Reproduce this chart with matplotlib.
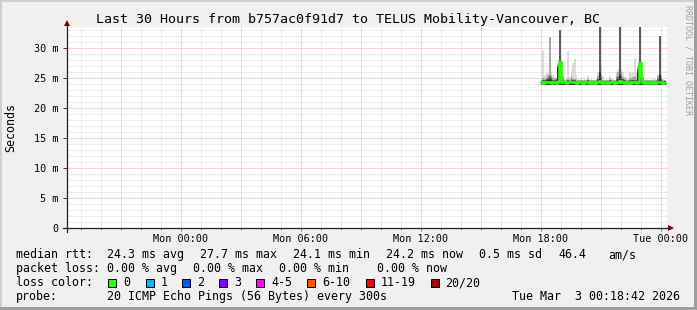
import matplotlib
matplotlib.use("Agg")
import matplotlib.pyplot as plt
from matplotlib.patches import Rectangle, Polygon
from matplotlib.lines import Line2D

# ---------------- data ----------------
title = "Last 30 Hours from b757ac0f91d7 to TELUS Mobility-Vancouver, BC"
x_tick_hours = [0, 6, 12, 18, 24]
x_tick_labels = ["Mon 00:00", "Mon 06:00", "Mon 12:00", "Mon 18:00", "Tue 00:00"]
y_ticks = [0, 5, 10, 15, 20, 25, 30]
y_tick_labels = ["0", "5 m", "10 m", "15 m", "20 m", "25 m", "30 m"]

# window: 30 hours ending Tue 00:18:42 (hours relative to Mon 00:00)
window_end = 24 + 18 / 60 + 42 / 3600
window_hours = 30
first_step_hour = 18.0       # data starts Mon 18:00
step_minutes = 5

median_ms = [24.3, 24.2, 24.3, 24.3, 24.4, 24.3, 24.2, 24.3, 24.3, 24.2,
             24.4, 27.7, 24.6, 24.3, 24.3, 24.2, 24.3, 24.3, 24.4, 24.3,
             24.3, 24.2, 24.3, 24.3, 24.3, 24.2, 24.3, 24.3, 24.3, 24.2,
             24.3, 24.3, 24.2, 24.3, 24.3, 24.5, 24.3, 24.2, 24.3, 24.3,
             24.2, 24.3, 24.3, 24.3, 24.2, 24.3, 24.3, 24.5, 24.3, 24.3,
             24.2, 24.3, 24.3, 24.2, 24.3, 24.3, 24.3, 24.2, 24.4, 27.5,
             25.2, 24.3, 24.2, 24.3, 24.3, 24.2, 24.3, 24.3, 24.2, 24.3,
             24.3, 24.4, 24.3, 24.2, 24.2]
ping_min = [23.9, 23.9, 23.8, 23.9, 23.9, 23.9, 23.8, 23.9, 23.9, 23.9,
            23.9, 23.9, 23.9, 23.9, 23.8, 23.9, 23.9, 23.9, 23.9, 23.8,
            23.9, 23.9, 23.9, 23.9, 23.8, 23.9, 23.9, 23.9, 23.9, 23.9,
            23.8, 23.9, 23.9, 23.9, 23.9, 23.9, 23.9, 23.8, 23.9, 23.9,
            23.9, 23.9, 23.9, 23.8, 23.9, 23.9, 23.9, 23.9, 23.9, 23.9,
            23.8, 23.9, 23.9, 23.9, 23.9, 23.8, 23.9, 23.9, 23.9, 23.9,
            23.9, 23.9, 23.8, 23.9, 23.9, 23.9, 23.9, 23.9, 23.8, 23.9,
            23.9, 23.9, 23.9, 23.9, 23.8]
ping_top1 = [24.7, 29.5, 25.5, 26.0, 25.8, 31.9, 26.0, 25.5, 25.2, 25.0,
             27.3, 33.0, 26.0, 25.8, 24.9, 25.0, 29.5, 25.2, 26.3, 27.5,
             28.2, 25.5, 24.8, 24.7, 25.0, 24.7, 24.8, 24.7, 25.4, 24.7,
             24.8, 24.7, 24.7, 24.9, 26.0, 34.5, 27.2, 25.3, 24.7, 24.8,
             24.7, 25.4, 24.8, 24.9, 24.7, 26.0, 26.5, 34.5, 26.5, 26.0,
             25.2, 25.0, 24.8, 26.0, 25.8, 26.0, 28.4, 26.0, 27.0, 34.5,
             26.0, 25.0, 24.7, 24.8, 24.7, 24.7, 24.9, 24.7, 24.8, 24.7,
             25.7, 32.0, 25.7, 24.8, 24.7]
ping_top2 = [24.6, 25.0, 24.8, 25.2, 25.5, 31.9, 25.5, 25.0, 24.8, 24.8,
             27.3, 33.0, 25.8, 25.3, 24.6, 24.7, 24.9, 24.7, 25.5, 24.8,
             24.8, 24.7, 24.6, 24.6, 24.6, 24.6, 24.6, 24.6, 24.8, 24.6,
             24.6, 24.6, 24.6, 24.6, 25.3, 34.5, 25.5, 24.7, 24.6, 24.6,
             24.6, 24.8, 24.6, 24.6, 24.6, 25.3, 26.0, 34.5, 26.0, 25.2,
             24.8, 24.7, 24.6, 25.0, 25.0, 25.2, 25.3, 25.0, 26.8, 34.5,
             25.8, 24.7, 24.6, 24.6, 24.6, 24.6, 24.6, 24.6, 24.6, 24.6,
             25.3, 32.0, 25.3, 24.6, 24.6]
ping_top3 = [24.5, 24.6, 24.6, 24.8, 25.0, 25.3, 25.0, 24.7, 24.6, 24.8,
             27.0, 33.0, 25.5, 24.8, 24.5, 24.5, 24.6, 24.5, 24.8, 24.6,
             24.6, 24.5, 24.5, 24.5, 24.5, 24.5, 24.5, 24.5, 24.6, 24.5,
             24.5, 24.5, 24.5, 24.5, 24.8, 34.5, 25.0, 24.5, 24.5, 24.5,
             24.5, 24.6, 24.5, 24.5, 24.5, 24.8, 25.2, 34.5, 25.3, 24.8,
             24.6, 24.5, 24.5, 24.6, 24.6, 24.7, 24.7, 24.6, 26.5, 34.5,
             25.5, 24.5, 24.5, 24.5, 24.5, 24.5, 24.5, 24.5, 24.5, 24.5,
             24.8, 32.0, 24.8, 24.5, 24.5]
ping_top4 = [24.4, 24.4, 24.4, 24.5, 24.7, 24.8, 24.7, 24.4, 24.4, 24.5,
             26.8, 27.7, 25.0, 24.5, 24.4, 24.4, 24.4, 24.4, 24.5, 24.4,
             24.4, 24.4, 24.4, 24.4, 24.4, 24.4, 24.4, 24.4, 24.4, 24.4,
             24.4, 24.4, 24.4, 24.4, 24.6, 26.0, 24.6, 24.4, 24.4, 24.4,
             24.4, 24.4, 24.4, 24.4, 24.4, 24.5, 24.6, 25.5, 24.8, 24.5,
             24.4, 24.4, 24.4, 24.4, 24.4, 24.4, 24.4, 24.4, 26.0, 27.6,
             25.2, 24.4, 24.4, 24.4, 24.4, 24.4, 24.4, 24.4, 24.4, 24.4,
             24.5, 25.5, 24.5, 24.4, 24.4]

legend_rows = [
    [("median rtt:", 16), ("24.3 ms avg", 107), ("27.7 ms max", 200), ("24.1 ms min", 293),
     ("24.2 ms now", 386), ("0.5 ms sd", 479), ("46.4", 558), ("am/s", 608)],
    [("packet loss:", 16), ("0.00 % avg", 107), ("0.00 % max", 193), ("0.00 % min", 279),
     ("0.00 % now", 377)],
    [("loss color:", 16)],
    [("probe:", 16), ("20 ICMP Echo Pings (56 Bytes) every 300s", 107),
     ("Tue Mar  3 00:18:42 2026", 512)],
]
loss_labels = ["0", "1", "2", "3", "4-5", "6-10", "11-19", "20/20"]
loss_colors = ["#26ff00", "#00b8ff", "#0059ff", "#7e00ff", "#ff00ff", "#ff5500", "#ff0000", "#a10000"]
loss_box_x = [108, 146, 182, 219, 256, 307, 366, 431]
loss_text_x = [123, 161, 197, 234, 271, 322, 381, 445]

# ---------------- figure ----------------
W, H = 697, 310
DPI = 100
MONO = "DejaVu Sans Mono"
plt.rcParams["font.family"] = MONO

fig = plt.figure(figsize=(W / DPI, H / DPI), dpi=DPI, facecolor="#f0f0f0")


def fx(x):
    return x / W


def fy(y):
    return 1 - y / H


# frame shading
fig.add_artist(Rectangle((fx(0), fy(2)), 1, 2 / H, transform=fig.transFigure,
                         facecolor="#cfcfcf", edgecolor="none", zorder=-5))
fig.add_artist(Rectangle((fx(0), 0), 2 / W, 1, transform=fig.transFigure,
                         facecolor="#cfcfcf", edgecolor="none", zorder=-5))
fig.add_artist(Rectangle((fx(W - 3), 0), 3 / W, 1, transform=fig.transFigure,
                         facecolor="#9e9e9e", edgecolor="none", zorder=-4))
fig.add_artist(Rectangle((0, 0), 1, 3 / H, transform=fig.transFigure,
                         facecolor="#9e9e9e", edgecolor="none", zorder=-4))

ax_l, ax_r, ax_t, ax_b = 67, 667, 27, 228
ax = fig.add_axes([fx(ax_l), fy(ax_b), (ax_r - ax_l) / W, (ax_b - ax_t) / H])
ax.set_facecolor("white")
x0 = window_end - window_hours
ax.set_xlim(x0, window_end)
ax.set_ylim(0, 33.5)
for s in ax.spines.values():
    s.set_visible(False)

n = len(median_ms)
step_h = step_minutes / 60
times = [first_step_hour + i * step_h for i in range(n)]

# smoke bands (outer = lightest)
bands = [(ping_top1, "#dddddd"), (ping_top2, "#aaaaaa"), (ping_top3, "#5c5c5c"), (ping_top4, "#303030")]
for tops, col in bands:
    ax.bar(times, [t - b for t, b in zip(tops, ping_min)], bottom=ping_min, width=step_h,
           align="edge", color=col, linewidth=0, zorder=2)

# median line (steps)
ax.step(times + [times[-1] + step_h], median_ms + [median_ms[-1]], where="post",
        color=loss_colors[0], linewidth=1.9, zorder=4, solid_joinstyle="miter")

# grid (drawn on top like rrdtool)
dots = (0, (1, 1))
lw = 0.72
for h in range(-5, 25):
    if h % 3 == 0:
        ax.axvline(h, color="#e05050", alpha=0.45, lw=lw, ls=dots, zorder=5)
    else:
        ax.axvline(h, color="#8f8f8f", alpha=0.3, lw=lw, ls=dots, zorder=5)
for v in range(1, 34):
    if v % 5 == 0:
        ax.axhline(v, color="#e05050", alpha=0.45, lw=lw, ls=dots, zorder=5)
    else:
        ax.axhline(v, color="#8f8f8f", alpha=0.3, lw=lw, ls=dots, zorder=5)

# ticks
ax.set_xticks(x_tick_hours)
ax.set_xticklabels(x_tick_labels, fontsize=7.3, family=MONO)
ax.set_xticks(list(range(-5, 25)), minor=True)
ax.set_yticks(y_ticks)
ax.set_yticklabels(y_tick_labels, fontsize=7.3, family=MONO)
ax.tick_params(axis="x", which="major", length=2.5, width=0.72, color="#e05050", pad=2.0)
ax.tick_params(axis="x", which="minor", length=1.5, width=0.72, color="#8f8f8f")
ax.tick_params(axis="y", which="major", length=3, width=0.72, color="#404040", pad=3.4)

fig.text(fx(11), fy(127.5), "Seconds", rotation=90, ha="center", va="center",
         fontsize=8.4, family=MONO)

# axes lines with arrows
fig.add_artist(Line2D([fx(ax_l), fx(ax_l)], [fy(232), fy(25)], transform=fig.transFigure,
                      color="#202020", lw=0.9, zorder=10))
fig.add_artist(Line2D([fx(63), fx(669)], [fy(ax_b), fy(ax_b)], transform=fig.transFigure,
                      color="#202020", lw=0.9, zorder=10))
fig.add_artist(Polygon([(fx(ax_l - 3), fy(26)), (fx(ax_l + 3), fy(26)), (fx(ax_l), fy(20))],
                       closed=True, transform=fig.transFigure, facecolor="#7f0000",
                       edgecolor="none", zorder=11))
fig.add_artist(Polygon([(fx(668), fy(ax_b - 3)), (fx(668), fy(ax_b + 3)), (fx(674), fy(ax_b))],
                       closed=True, transform=fig.transFigure, facecolor="#7f0000",
                       edgecolor="none", zorder=11))

# title and watermark
fig.text(0.5, fy(19), title, ha="center", va="center", fontsize=9.6, family=MONO)
fig.text(fx(688), fy(5), "RRDTOOL / TOBI OETIKER", rotation=270, ha="center", va="top",
         fontsize=6, family=MONO, color="#a0a0a0")

# legend
row_y = [254.5, 268.5, 282.5, 296.5]
for row, yy in zip(legend_rows, row_y):
    for txt, xx in row:
        fig.text(fx(xx), fy(yy), txt, ha="left", va="center", fontsize=8.4, family=MONO)
for lab, col, bx, tx in zip(loss_labels, loss_colors, loss_box_x, loss_text_x):
    fig.add_artist(Rectangle((fx(bx), fy(286.5)), 8 / W, 8 / H, transform=fig.transFigure,
                             facecolor=col, edgecolor="black", lw=0.7, zorder=10))
    fig.text(fx(tx), fy(282.5), lab, ha="left", va="center", fontsize=8.4, family=MONO)

fig.savefig("out.png", dpi=DPI, facecolor=fig.get_facecolor())
